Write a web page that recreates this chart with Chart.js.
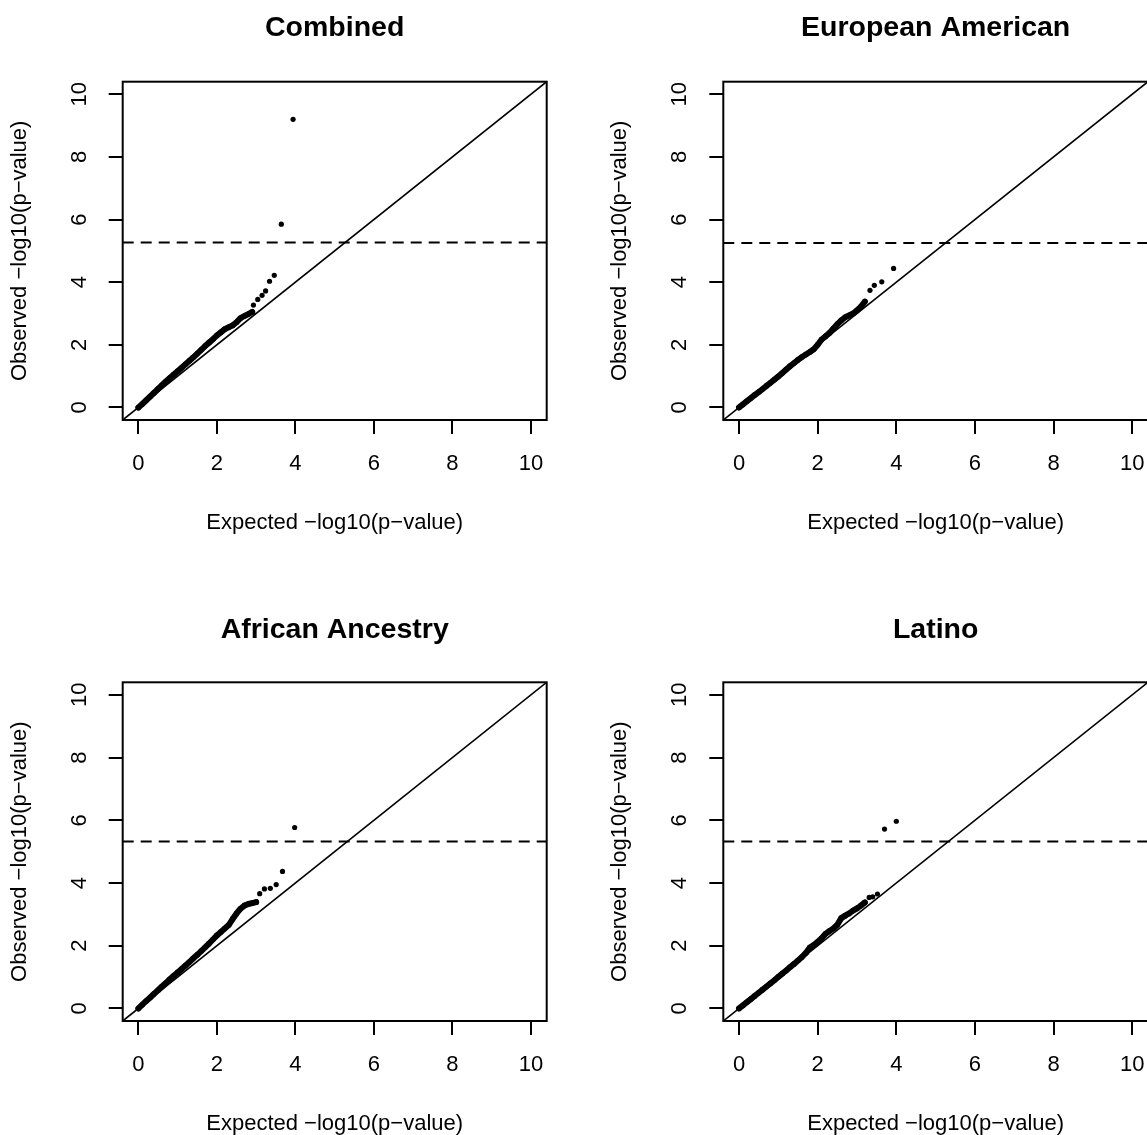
<!DOCTYPE html>
<html>
<head>
<meta charset="utf-8">
<script src="https://cdn.jsdelivr.net/npm/chart.js@4.4.1/dist/chart.umd.min.js"></script>
<style>
  html, body { margin: 0; padding: 0; background: #fff; overflow: hidden; }
  #wrap { position: relative; width: 1147px; height: 1135px; overflow: hidden; }
  canvas { position: absolute; }
</style>
</head>
<body>
<div id="wrap">
  <canvas id="c1" width="573" height="540" style="left:0px;top:0px"></canvas>
  <canvas id="c2" width="560" height="540" style="left:600px;top:0px"></canvas>
  <canvas id="c3" width="573" height="541" style="left:0px;top:600px"></canvas>
  <canvas id="c4" width="560" height="541" style="left:600px;top:600px"></canvas>
</div>
<script>
const tickValues = [0, 2, 4, 6, 8, 10];
const panelTitles = ["Combined", "European American", "African Ancestry", "Latino"];
const thresholds = [5.27, 5.25, 5.32, 5.32];

// dense part of each QQ curve (expected, observed)
const combinedBandExp = [0, 0.1, 0.2, 0.3, 0.4, 0.5, 0.6, 0.7, 0.8, 0.9, 1.0, 1.1, 1.2, 1.3, 1.4, 1.5, 1.6, 1.7, 1.8, 1.9, 2.0, 2.1, 2.2, 2.3, 2.4, 2.5, 2.6, 2.7, 2.8, 2.9];
const combinedBandObs = [0, 0.11, 0.23, 0.35, 0.47, 0.59, 0.71, 0.83, 0.94, 1.05, 1.16, 1.27, 1.38, 1.49, 1.60, 1.72, 1.84, 1.96, 2.07, 2.18, 2.30, 2.40, 2.50, 2.56, 2.62, 2.72, 2.85, 2.92, 2.98, 3.05];
const combinedTailExp = [2.93, 3.04, 3.15, 3.24, 3.34, 3.46, 3.64, 3.94];
const combinedTailObs = [3.27, 3.45, 3.58, 3.72, 4.03, 4.22, 5.85, 9.20];

const europeanBandExp = [0, 0.1, 0.2, 0.3, 0.4, 0.5, 0.6, 0.7, 0.8, 0.9, 1.0, 1.1, 1.2, 1.3, 1.4, 1.5, 1.6, 1.7, 1.8, 1.9, 2.0, 2.1, 2.2, 2.3, 2.4, 2.5, 2.6, 2.7, 2.8, 2.9, 3.0, 3.1, 3.2];
const europeanBandObs = [0, 0.1, 0.2, 0.3, 0.4, 0.49, 0.59, 0.69, 0.79, 0.89, 0.99, 1.10, 1.21, 1.32, 1.42, 1.52, 1.61, 1.69, 1.77, 1.86, 2.00, 2.17, 2.27, 2.38, 2.52, 2.66, 2.78, 2.88, 2.94, 3.00, 3.10, 3.22, 3.38];
const europeanTailExp = [3.33, 3.44, 3.63, 3.93];
const europeanTailObs = [3.74, 3.90, 4.01, 4.44];

const africanBandExp = [0, 0.1, 0.2, 0.3, 0.4, 0.5, 0.6, 0.7, 0.8, 0.9, 1.0, 1.1, 1.2, 1.3, 1.4, 1.5, 1.6, 1.7, 1.8, 1.9, 2.0, 2.1, 2.2, 2.3, 2.4, 2.5, 2.6, 2.7, 2.8, 2.9, 3.0];
const africanBandObs = [0, 0.12, 0.24, 0.35, 0.47, 0.58, 0.70, 0.81, 0.93, 1.04, 1.15, 1.26, 1.37, 1.48, 1.60, 1.71, 1.83, 1.95, 2.07, 2.20, 2.33, 2.44, 2.55, 2.66, 2.85, 3.03, 3.18, 3.28, 3.33, 3.36, 3.39];
const africanTailExp = [3.09, 3.21, 3.36, 3.51, 3.67, 3.98];
const africanTailObs = [3.66, 3.81, 3.83, 3.95, 4.37, 5.77];

const latinoBandExp = [0, 0.1, 0.2, 0.3, 0.4, 0.5, 0.6, 0.7, 0.8, 0.9, 1.0, 1.1, 1.2, 1.3, 1.4, 1.5, 1.6, 1.7, 1.8, 1.9, 2.0, 2.1, 2.2, 2.3, 2.4, 2.5, 2.6, 2.7, 2.8, 2.9, 3.0, 3.1, 3.2];
const latinoBandObs = [0, 0.1, 0.2, 0.3, 0.4, 0.5, 0.6, 0.7, 0.8, 0.9, 1.01, 1.11, 1.21, 1.32, 1.42, 1.53, 1.64, 1.77, 1.94, 2.02, 2.12, 2.24, 2.38, 2.47, 2.55, 2.67, 2.88, 2.96, 3.03, 3.12, 3.19, 3.28, 3.38];
const latinoTailExp = [3.31, 3.40, 3.52, 3.70, 4.00];
const latinoTailObs = [3.54, 3.56, 3.65, 5.72, 5.97];

const AXIS_MIN = -0.4, AXIS_MAX = 10.4;
const FONT = "'Liberation Sans', Arial, Helvetica, sans-serif";
Chart.defaults.font.family = FONT;
Chart.defaults.color = "#000";

const toPts = (xs, ys) => xs.map((x, i) => ({ x: x, y: ys[i] }));

// draws the full box around the plot region like R's bty="o"
const boxPlugin = {
  id: "box",
  afterDatasetsDraw(chart) {
    const { ctx, chartArea: a } = chart;
    ctx.save();
    ctx.strokeStyle = "#000";
    ctx.lineWidth = 2;
    ctx.strokeRect(a.left, a.top, a.right - a.left, a.bottom - a.top);
    ctx.restore();
  }
};

function makeScale(axis, yWidth) {
  const isX = axis === "x";
  return {
    type: "linear",
    position: isX ? "bottom" : "left",
    min: AXIS_MIN,
    max: AXIS_MAX,
    afterBuildTicks: s => { s.ticks = tickValues.map(v => ({ value: v })); },
    afterFit: s => {
      // fixed margins, no extra room for overhanging labels
      if (isX) { s.height = 120; s.paddingLeft = 0; s.paddingRight = 0; }
      else { s.width = yWidth; s.paddingTop = 0; s.paddingBottom = 0; }
    },
    ticks: {
      autoSkip: false,
      includeBounds: false,
      padding: 17,
      minRotation: isX ? 0 : 90,
      maxRotation: isX ? 0 : 90,
      crossAlign: isX ? "near" : "center",
      color: "#000",
      font: { size: 22 }
    },
    grid: { drawOnChartArea: false, drawTicks: true, tickLength: 14, color: "#000", lineWidth: 2 },
    border: { display: false },
    title: {
      display: true,
      text: isX ? "Expected \u2212log10(p\u2212value)" : "Observed \u2212log10(p\u2212value)",
      color: "#000",
      font: { size: 22 },
      padding: isX ? { top: 0, bottom: 3.8 } : { top: 6.8, bottom: 0 }
    }
  };
}

function drawPanel(id, idx, bandX, bandY, tailX, tailY, yWidth, padRight, titlePad) {
  const thr = thresholds[idx];
  new Chart(document.getElementById(id), {
    type: "scatter",
    data: {
      datasets: [
        { data: [{ x: AXIS_MIN, y: AXIS_MIN }, { x: AXIS_MAX, y: AXIS_MAX }], showLine: true,
          borderColor: "#000", borderWidth: 1.6, pointRadius: 0 },
        { data: [{ x: AXIS_MIN, y: thr }, { x: AXIS_MAX, y: thr }], showLine: true,
          borderColor: "#000", borderWidth: 2, borderDash: [11, 7], pointRadius: 0 },
        { data: toPts(bandX, bandY), showLine: true, borderColor: "#000", borderWidth: 6,
          borderCapStyle: "round", borderJoinStyle: "round",
          pointRadius: 2.8, pointBorderWidth: 0, pointBackgroundColor: "#000" },
        { data: toPts(tailX, tailY), pointRadius: 2.6, pointBorderWidth: 0, pointBackgroundColor: "#000" }
      ]
    },
    options: {
      responsive: false,
      animation: false,
      events: [],
      layout: { padding: { left: 0, top: 0, bottom: 0, right: padRight } },
      scales: { x: makeScale("x"), y: makeScale("y", yWidth) },
      plugins: {
        legend: { display: false },
        tooltip: { enabled: false },
        title: {
          display: true,
          text: panelTitles[idx],
          fullSize: false,
          color: "#000",
          font: { size: 28.5, weight: "bold" },
          padding: titlePad
        }
      }
    },
    plugins: [boxPlugin]
  });
}

// title box height = 28.5*1.2 + top + bottom = top of plot box
drawPanel("c1", 0, combinedBandExp, combinedBandObs, combinedTailExp, combinedTailObs, 122.7, 26.3, { top: 11.5, bottom: 36.0 });
drawPanel("c2", 1, europeanBandExp, europeanBandObs, europeanTailExp, europeanTailObs, 123.3, 12, { top: 11.5, bottom: 36.0 });
drawPanel("c3", 2, africanBandExp, africanBandObs, africanTailExp, africanTailObs, 122.7, 26.3, { top: 13.0, bottom: 35.1 });
drawPanel("c4", 3, latinoBandExp, latinoBandObs, latinoTailExp, latinoTailObs, 123.3, 12, { top: 13.0, bottom: 35.1 });
</script>
</body>
</html>
